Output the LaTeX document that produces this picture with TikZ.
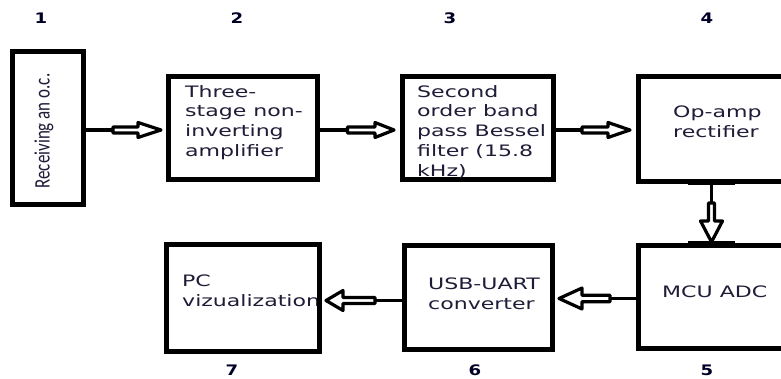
\documentclass[tikz,border=0pt]{standalone}
\usepackage{fontspec}
\usepackage{graphicx}
\newfontfamily\boxfont[FakeStretch=1.4]{DejaVu Sans}
\newfontfamily\rotfont{Carlito}
\newfontfamily\numfont[FakeStretch=1.25]{DejaVu Sans}
\usetikzlibrary{calc}
\definecolor{txt}{RGB}{30,28,55}
\tikzset{
  blk/.style={draw=black, line width=5pt, inner sep=0pt, rectangle},
  btxt/.style={font=\boxfont\fontsize{15.75}{19.75}\selectfont, text=txt, align=left, anchor=north west, inner sep=0pt},
  num/.style={font=\numfont\bfseries\fontsize{14.5}{17}\selectfont, text=black!85!blue, inner sep=0pt},
  link/.style={draw=black, line width=3.4pt},
  harrow/.style={draw=black, fill=white, line width=3.2pt, line join=round},
  tick/.style={draw=black, line width=6pt}
}
\newcommand\hollowarrow[6]{% tip, angle, L, h, s, H
  \draw[harrow, shift={(#1)}, rotate=#2] (0,0) -- (-#4,#6) -- (-#4,#5) -- (-#3,#5) -- (-#3,-#5) -- (-#4,-#5) -- (-#4,-#6) -- cycle;}
\begin{document}
\begin{tikzpicture}[x=1pt, y=-1pt]
\useasboundingbox (0,0) rectangle (781,379);
\clip (0,0) rectangle (781,379);
\fill[white] (0,0) rectangle (781,379);
% boxes
\node[blk, minimum width=71pt, minimum height=152.5pt] (b1) at (47.5,128.25) {};
\node[blk, minimum width=148.5pt, minimum height=103pt] (b2) at (242.75,128) {};
\node[blk, minimum width=151pt, minimum height=103.5pt] (b3) at (477.5,128.25) {};
\node[blk, minimum width=162pt, minimum height=105pt] (b4) at (719,129) {};
\node[blk, minimum width=162pt, minimum height=103pt] (b5) at (719,297) {};
\node[blk, minimum width=148pt, minimum height=104pt] (b6) at (478.5,297.5) {};
\node[blk, minimum width=153pt, minimum height=106.5pt] (b7) at (242.5,297.75) {};
% texts
\node[rotate=90, font=\rotfont\fontsize{17}{20}\selectfont, text=txt, inner sep=0pt] (t1) at (44,131) {\scalebox{1}[1.3]{Receiving an o.c.}};
\node[btxt] (t2) at (185,85) {Three-\\stage non-\\inverting\\amplifier};
\node[btxt] (t3) at (417,85) {Second\\order band\\pass Bessel\\filter (15.8\\kHz)};
\node[btxt] (t4) at (673,106) {Op-amp\\rectifier};
\node[btxt] (t6) at (428,278) {USB-UART\\converter};
\node[btxt] (t5) at (662,286) {MCU ADC};
\begin{scope}
  \clip (168.5,247) rectangle (316.5,348.5);
  \node[btxt] (t7) at (182,275) {PC\\vizualization};
\end{scope}
% numbers
\node[num] (n1) at (41,18) {1};
\node[num] (n2) at (237,18) {2};
\node[num] (n3) at (450,18) {3};
\node[num] (n4) at (707,18) {4};
\node[num] (n5) at (707,370) {5};
\node[num] (n6) at (475,370) {6};
\node[num] (n7) at (232,370) {7};
% connector coordinates
\coordinate (a12) at (113,130);  \coordinate (p12) at (161,130);
\coordinate (a23) at (347.5,130); \coordinate (p23) at (394,130);
\coordinate (a34) at (582,130);  \coordinate (p34) at (630,130);
\coordinate (a45) at (711.5,203); \coordinate (p45) at (711.5,242);
\coordinate (a56) at (610,298.5); \coordinate (p56) at (559,298.5);
\coordinate (a67) at (375,300.5); \coordinate (p67) at (326,300.5);
% connectors
\draw[link] (b1.east |- a12) -- (a12);
\hollowarrow{p12}{0}{48}{23}{3}{7.5}
\draw[link] (b2.east |- a23) -- (a23);
\hollowarrow{p23}{0}{46.5}{19}{3}{7.5}
\draw[link] (b3.east |- a34) -- (a34);
\hollowarrow{p34}{0}{48}{22}{3}{7.5}
\draw[link] (b4.south -| a45) -- (a45);
\hollowarrow{p45}{-90}{39}{21}{3}{11}
\draw[link] (b5.west |- a56) -- (a56);
\hollowarrow{p56}{180}{51}{23}{3.2}{10.5}
\draw[link] (b6.west |- a67) -- (a67);
\hollowarrow{p67}{180}{49}{17}{3}{10}
% thick marks on box edges
\draw[tick] (688,182.5) -- (735,182.5);
\draw[tick] (688,244) -- (735,244);
\end{tikzpicture}
\end{document}
